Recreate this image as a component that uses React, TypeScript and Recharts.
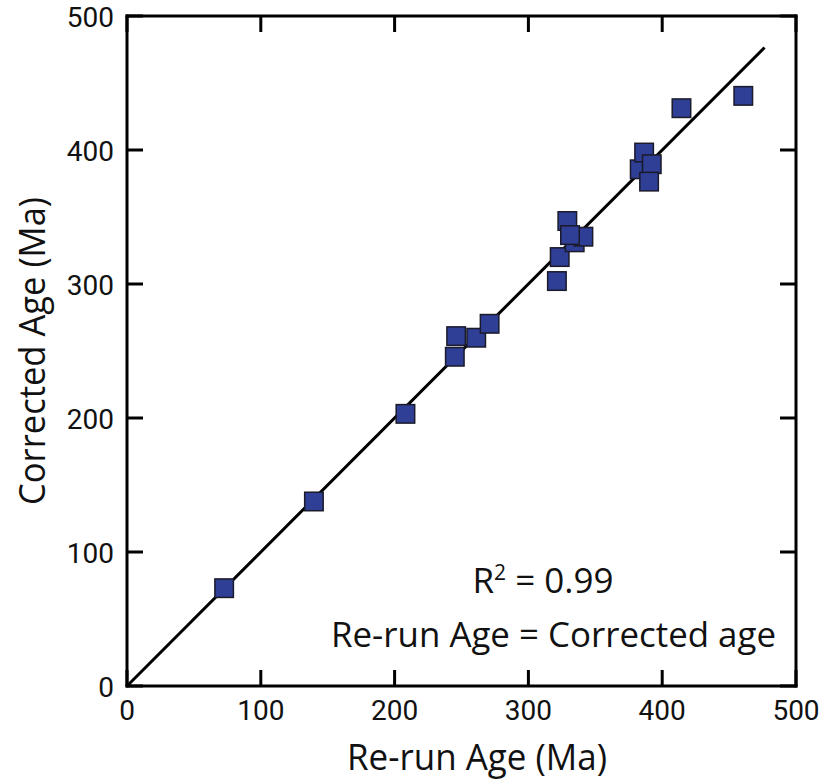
import React from 'react';
import { ScatterChart, Scatter, XAxis, YAxis, ReferenceLine } from 'recharts';

// Data (Ma)
const reRunAge = [72.6, 139.7, 208.1, 245, 246, 261, 271, 321.3, 323.4, 329.1, 334.6, 341.1, 331.1, 383.2, 386.5, 392.2, 390.2, 414.4, 460.6];
const correctedAge = [73.0, 137.7, 203.1, 245.7, 261.1, 259.9, 270.3, 302.2, 320.1, 347.0, 331.1, 335.3, 336.5, 385.6, 398.1, 389.4, 376.4, 431.2, 440.4];
const axisTicks = [0, 100, 200, 300, 400, 500];
const fitLineX = [0, 476.5];
const fitLineY = [0, 476.5];

const xTitle = 'Re-run Age (Ma)';
const yTitle = 'Corrected Age (Ma)';
const r2Label = '0.99';
const equationLabel = 'Re-run Age = Corrected age';

const points = reRunAge.map((x, i) => ({ x, y: correctedAge[i] }));

const FONT = '"Open Sans", "Noto Sans", sans-serif';
const TICK_FONT = 'Roboto, "Open Sans", sans-serif';
const TICK_LEN = 16;
const STROKE = 3;

const BottomTick = (props: any) => {
  const { x, y, payload } = props;
  return (
    <g>
      <line x1={x} x2={x} y1={y} y2={y - TICK_LEN} stroke="#000" strokeWidth={STROKE} />
      <text x={x} y={y + 34} textAnchor="middle" fontFamily={TICK_FONT} fontSize={28} fill="#111">
        {payload.value}
      </text>
    </g>
  );
};

const TopTick = (props: any) => {
  const { x, y } = props;
  return <line x1={x} x2={x} y1={y} y2={y + TICK_LEN} stroke="#000" strokeWidth={STROKE} />;
};

const LeftTick = (props: any) => {
  const { x, y, payload } = props;
  return (
    <g>
      <line x1={x} x2={x + TICK_LEN} y1={y} y2={y} stroke="#000" strokeWidth={STROKE} />
      <text x={x - 13} y={y + 10.5} textAnchor="end" fontFamily={TICK_FONT} fontSize={28} fill="#111">
        {payload.value}
      </text>
    </g>
  );
};

const RightTick = (props: any) => {
  const { x, y } = props;
  return <line x1={x} x2={x - TICK_LEN} y1={y} y2={y} stroke="#000" strokeWidth={STROKE} />;
};

const SquareShape = (props: any) => {
  const { cx, cy } = props;
  const s = 18.5;
  return (
    <rect x={cx - s / 2} y={cy - s / 2} width={s} height={s} fill="#2F3F96" stroke="#1a1a2a" strokeWidth={1.5} />
  );
};

const axisLine = { stroke: '#000', strokeWidth: STROKE, strokeLinecap: 'square' as const };

export default function App() {
  return (
    <div style={{ position: 'absolute', left: 0, top: 0, width: 827, height: 784, background: '#fff' }}>
      <ScatterChart width={827} height={784} margin={{ top: 15, right: 30, bottom: 97, left: 126 }}>
        <XAxis
          xAxisId="bottom"
          type="number"
          dataKey="x"
          domain={[0, 500]}
          ticks={axisTicks}
          interval={0}
          height={1}
          tickSize={0}
          tickMargin={0}
          tickLine={false}
          axisLine={axisLine}
          tick={<BottomTick />}
          allowDataOverflow
        />
        <XAxis
          xAxisId="top"
          orientation="top"
          type="number"
          dataKey="x"
          domain={[0, 500]}
          ticks={axisTicks}
          interval={0}
          height={1}
          tickSize={0}
          tickMargin={0}
          tickLine={false}
          axisLine={axisLine}
          tick={<TopTick />}
          allowDataOverflow
        />
        <YAxis
          yAxisId="left"
          type="number"
          dataKey="y"
          domain={[0, 500]}
          ticks={axisTicks}
          interval={0}
          width={1}
          tickSize={0}
          tickMargin={0}
          tickLine={false}
          axisLine={axisLine}
          tick={<LeftTick />}
          allowDataOverflow
        />
        <YAxis
          yAxisId="right"
          orientation="right"
          type="number"
          dataKey="y"
          domain={[0, 500]}
          ticks={axisTicks}
          interval={0}
          width={1}
          tickSize={0}
          tickMargin={0}
          tickLine={false}
          axisLine={axisLine}
          tick={<RightTick />}
          allowDataOverflow
        />
        <ReferenceLine
          xAxisId="bottom"
          yAxisId="left"
          segment={[
            { x: fitLineX[0], y: fitLineY[0] },
            { x: fitLineX[1], y: fitLineY[1] },
          ]}
          stroke="#000"
          strokeWidth={STROKE}
          ifOverflow="visible"
        />
        <Scatter
          xAxisId="bottom"
          yAxisId="left"
          data={points}
          shape={<SquareShape />}
          isAnimationActive={false}
        />
      </ScatterChart>
      <svg
        width={827}
        height={784}
        style={{ position: 'absolute', left: 0, top: 0, pointerEvents: 'none' }}
      >
        <text x={477} y={770} textAnchor="middle" fontFamily={FONT} fontSize={36} fill="#111" textLength={260} lengthAdjust="spacingAndGlyphs">
          {xTitle}
        </text>
        <text
          transform="translate(45, 351) rotate(-90)"
          x={0}
          y={0}
          textAnchor="middle"
          fontFamily={FONT}
          fontSize={36}
          fill="#111"
          textLength={308}
          lengthAdjust="spacingAndGlyphs"
        >
          {yTitle}
        </text>
        <text x={543} y={593} textAnchor="middle" fontFamily={FONT} fontSize={35} fill="#111">
          R<tspan fontSize={21} dy={-13}>2</tspan>
          <tspan dy={13}>{' = ' + r2Label}</tspan>
        </text>
        <text x={331} y={647} fontFamily={FONT} fontSize={35} fill="#111" textLength={445} lengthAdjust="spacingAndGlyphs">
          {equationLabel}
        </text>
      </svg>
    </div>
  );
}
